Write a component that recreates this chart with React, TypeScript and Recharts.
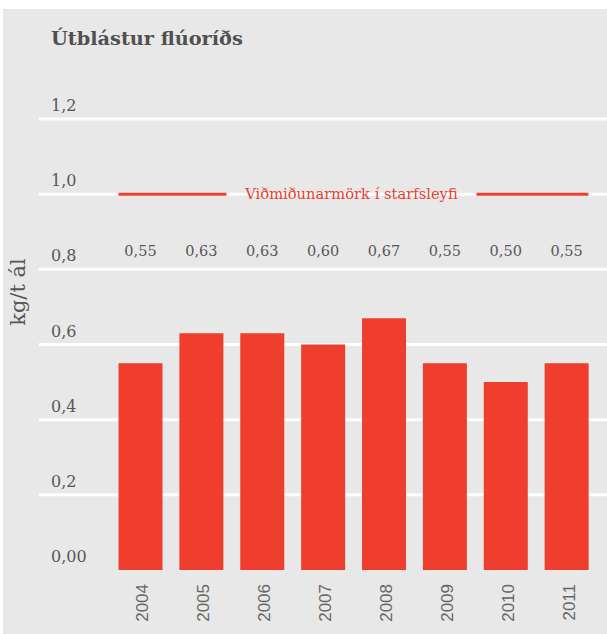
import React from 'react';
import { BarChart, Bar, XAxis, YAxis, CartesianGrid, ReferenceLine, LabelList } from 'recharts';

const categories = ['2004', '2005', '2006', '2007', '2008', '2009', '2010', '2011'];
const values = [0.55, 0.63, 0.63, 0.6, 0.67, 0.55, 0.5, 0.55];
const valueLabels = ['0,55', '0,63', '0,63', '0,60', '0,67', '0,55', '0,50', '0,55'];
const yTicks = [0, 0.2, 0.4, 0.6, 0.8, 1.0, 1.2];
const yTickLabels = ['0,00', '0,2', '0,4', '0,6', '0,8', '1,0', '1,2'];
const gridValues = [0.2, 0.4, 0.6, 0.8, 1.0, 1.2];
const limitValue = 1.0;
const limitLabel = 'Viðmiðunarmörk í starfsleyfi';
const labelRowValue = 0.85;
const title = 'Útblástur flúoríðs';
const yTitle = 'kg/t ál';

const data = categories.map((c, i) => ({ year: c, value: values[i], label: valueLabels[i] }));

const RED = '#ef3e2e';
const BG = '#e8e8e8';
const TEXT = '#575757';
const SERIF = '"DejaVu Serif", serif';
const SANS = '"Liberation Sans", Arial, sans-serif';
const GAP = 0.14;

const YTick = (props: any) => {
  const { y, index } = props;
  return (
    <text x={48} y={y - 8} textAnchor="start" fontFamily={SERIF} fontSize={16} fill={TEXT}>
      {yTickLabels[index]}
    </text>
  );
};

const XTick = (props: any) => {
  const { x, y, payload } = props;
  return (
    <text
      transform={`translate(${x + 8},${y + 6}) rotate(-90)`}
      textAnchor="end"
      fontFamily={SANS}
      fontSize={17}
      fill="#666"
    >
      {payload.value}
    </text>
  );
};

const GridLine = (props: any) => {
  const { y1, y2, index } = props;
  return <line key={`g-${index}`} x1={36} x2={604} y1={y1} y2={y2} stroke="#ffffff" strokeWidth={3} />;
};

const LimitShape = (props: any) => {
  const { x1, x2, y1 } = props;
  const band = (x2 - x1) / categories.length;
  const inset = band * GAP;
  const cx = (x1 + x2) / 2;
  return (
    <g>
      <line x1={x1 + inset} x2={cx - 127} y1={y1} y2={y1} stroke={RED} strokeWidth={3} />
      <line x1={cx + 123} x2={x2 - inset} y1={y1} y2={y1} stroke={RED} strokeWidth={3} />
      <text x={cx - 2} y={y1 + 5} textAnchor="middle" fontFamily={SERIF} fontSize={14.7} fill={RED}>
        {limitLabel}
      </text>
    </g>
  );
};

const ValueLabel = (props: any) => {
  const { x, y, width, height, value, index } = props;
  const base = y + height;
  const perUnit = height / Number(value);
  const ly = base - labelRowValue * perUnit;
  return (
    <text x={x + width / 2} y={ly + 5.5} textAnchor="middle" fontFamily={SERIF} fontSize={14.5} fill={TEXT}>
      {valueLabels[index]}
    </text>
  );
};

const YTitle = () => {
  return (
    <text
      transform={`translate(22,283) rotate(-90)`}
      textAnchor="middle"
      fontFamily={SERIF}
      fontSize={21}
      fill={TEXT}
    >
      {yTitle}
    </text>
  );
};

export default function App() {
  return (
    <div style={{ position: 'absolute', left: 3, top: 9, width: 604, height: 625, background: BG, overflow: 'hidden' }}>
      <div
        style={{
          position: 'absolute',
          left: 48,
          top: 18,
          fontFamily: SERIF,
          fontWeight: 'bold',
          fontSize: 19.3,
          color: '#505050',
          lineHeight: '24px',
          whiteSpace: 'nowrap',
        }}
      >
        {title}
      </div>
      <BarChart
        width={604}
        height={625}
        data={data}
        margin={{ top: 110, right: 10, left: 0, bottom: 0 }}
        barCategoryGap={`${GAP * 100}%`}
        style={{ position: 'absolute', left: 0, top: 0 }}
      >
        <CartesianGrid vertical={false} horizontal={GridLine} horizontalValues={gridValues} stroke="#fff" />
        <XAxis dataKey="year" height={64} axisLine={false} tickLine={false} tick={<XTick />} interval={0} />
        <YAxis
          width={107}
          domain={[0, 1.2]}
          ticks={yTicks}
          axisLine={false}
          tickLine={false}
          tick={<YTick />}
          interval={0}
          label={<YTitle />}
        />
        <Bar dataKey="value" fill={RED} isAnimationActive={false}>
          <LabelList dataKey="value" content={<ValueLabel />} />
        </Bar>
        <ReferenceLine y={limitValue} shape={<LimitShape />} />
      </BarChart>
    </div>
  );
}
